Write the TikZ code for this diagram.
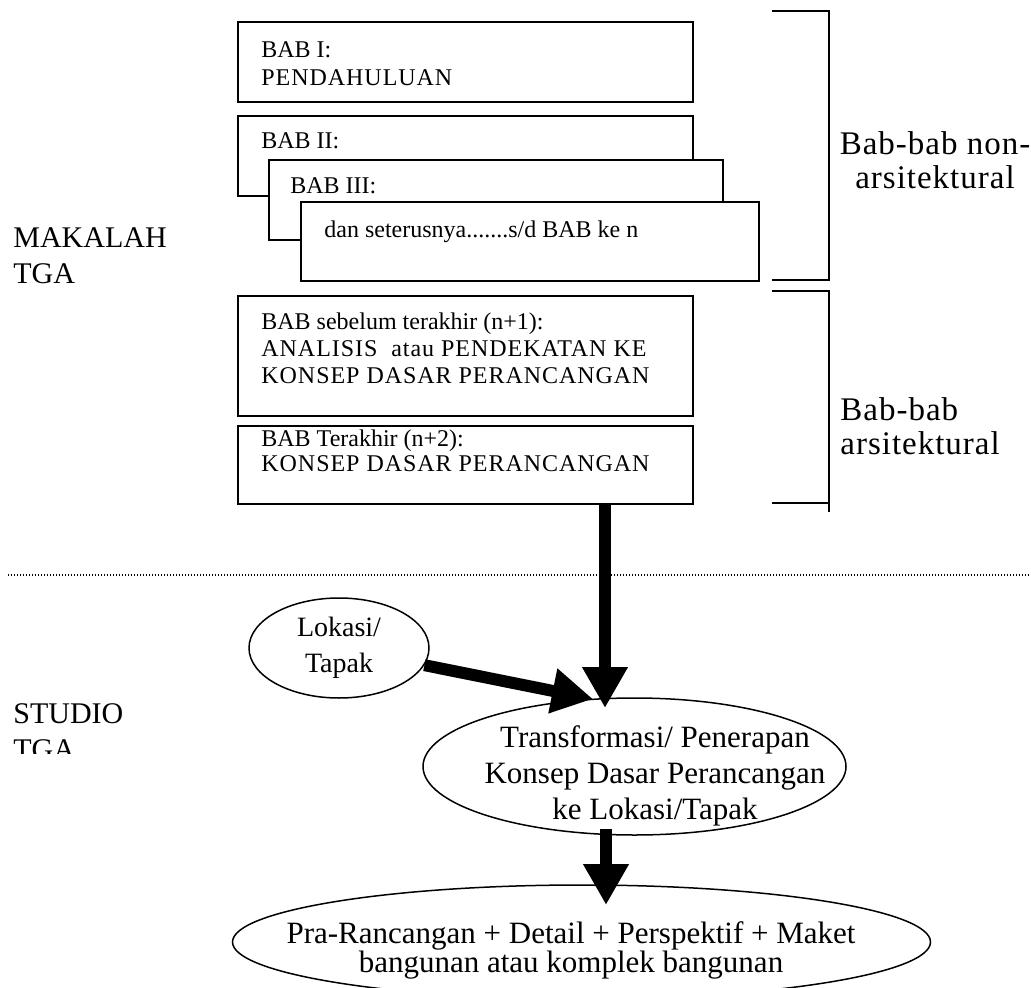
\documentclass[tikz,border=0pt]{standalone}
\usepackage{fontspec}
\setmainfont{Liberation Serif}
\newfontfamily\sidefont[LetterSpace=3]{Liberation Serif}
\newfontfamily\capfont[LetterSpace=4]{Liberation Serif}
\usetikzlibrary{calc}
\usetikzlibrary{shapes.geometric}
\usetikzlibrary{arrows.meta}

\begin{document}
\begin{tikzpicture}[x=0.5pt,y=-0.5pt,
	bab/.style={draw,fill=white,line width=1pt,anchor=north west,minimum width=227.5pt,inner sep=0pt},
	babtxt/.style={anchor=north west,align=left,inner sep=0pt,font=\fontsize{12}{14}\selectfont},
	oval/.style={draw,ellipse,line width=0.75pt,inner sep=0pt},
	ovaltxt/.style={align=center,inner sep=0pt,font=\fontsize{15.5}{18}\selectfont},
	side/.style={inner sep=0pt,font=\sidefont\fontsize{16.5}{17}\selectfont},
	part/.style={inner sep=0pt,align=left,anchor=north west,font=\fontsize{15}{18}\selectfont},
	fat/.style={line width=6pt,-{Triangle[width=21.5pt,length=20.5pt]}}]
	\useasboundingbox (0,0) rectangle (1031,988);
	\clip (0,0) rectangle (1031,988);
	\node[bab,minimum height=40pt] (B1) at (237,21) {};
	\node[babtxt] (B1t) at (261,41) {BAB I:\\{\capfont PENDAHULUAN}};
	\node[bab,minimum height=40pt] (B2) at (237,115) {};
	\node[babtxt] (B2t) at (261,132) {BAB II:};
	\node[bab,minimum height=40pt,minimum width=227pt] (B3) at (268,159) {};
	\node[babtxt] (B3t) at (290,177) {BAB III:};
	\node[bab,minimum height=39.5pt,minimum width=229pt] (Bn) at (300,201) {};
	\node[babtxt] (Bnt) at (324,220.5) {dan seterusnya.......s/d BAB ke n};
	\node[bab,minimum height=60pt] (Bn1) at (237,295) {};
	\node[babtxt,font=\fontsize{12}{13.5}\selectfont] (Bn1t) at (261,312.5)
		{BAB sebelum terakhir (n+1):\\{\capfont ANALISIS\ \ atau PENDEKATAN KE}\\{\capfont KONSEP DASAR PERANCANGAN}};
	\node[bab,minimum height=39pt] (Bn2) at (237,425) {};
	\node[babtxt,font=\fontsize{12}{12.5}\selectfont] (Bn2t) at (261,429)
		{BAB Terakhir (n+2):\\{\capfont KONSEP DASAR PERANCANGAN}};
	\draw[line width=1pt] (772,11) -- (829,11) -- (829,280) -- (772,280);
	\draw[line width=1pt] (772,291) -| (829,512);
	\draw[line width=1pt] (772,503) -- (829,503);
	\node[side,align=center,anchor=north] (NA) at (935,131) {Bab-bab non-\\arsitektural};
	\node[side,align=left,anchor=north west] (AR) at (840,397) {Bab-bab\\arsitektural};
	\node[part] (MK) at (13,227) {MAKALAH\\TGA};
	\begin{scope}
		\clip (0,680) rectangle (200,753);
		\node[part] (ST) at (13,703) {STUDIO\\TGA};
	\end{scope}
	\draw[line width=0.6pt,dash pattern=on 0.6pt off 0.9pt] (8,575) -- (1031,575);
	\node[oval,minimum width=90pt,minimum height=50pt,font=\fontsize{14}{18}\selectfont,align=center] (lok) at (339,648) {Lokasi/\\Tapak};
	\node[oval,minimum width=211.5pt,minimum height=68.5pt] (trans) at (634.5,766.5) {};
	\node[ovaltxt] (transt) at (655,776) {Transformasi/ Penerapan\\Konsep Dasar Perancangan\\ke Lokasi/Tapak};
	\node[oval,minimum width=349pt,minimum height=57pt] (pra) at (581.5,942) {};
	\node[ovaltxt,font=\fontsize{15.5}{14.5}\selectfont] (prat) at (571,950.5)
		{Pra-Rancangan + Detail + Perspektif + Maket\\bangunan atau komplek bangunan};
	\coordinate (tip1) at (605,708);
	\coordinate (tip2) at (593,699);
	\coordinate (tip3) at (606,905);
	\draw[fat] (tip1 |- Bn2.south) -- (tip1);
	\draw[fat] (lok) -- (tip2);
	\draw[fat] ($(tip3 |- trans.south)+(0,-7)$) -- (tip3);
\end{tikzpicture}
\end{document}
